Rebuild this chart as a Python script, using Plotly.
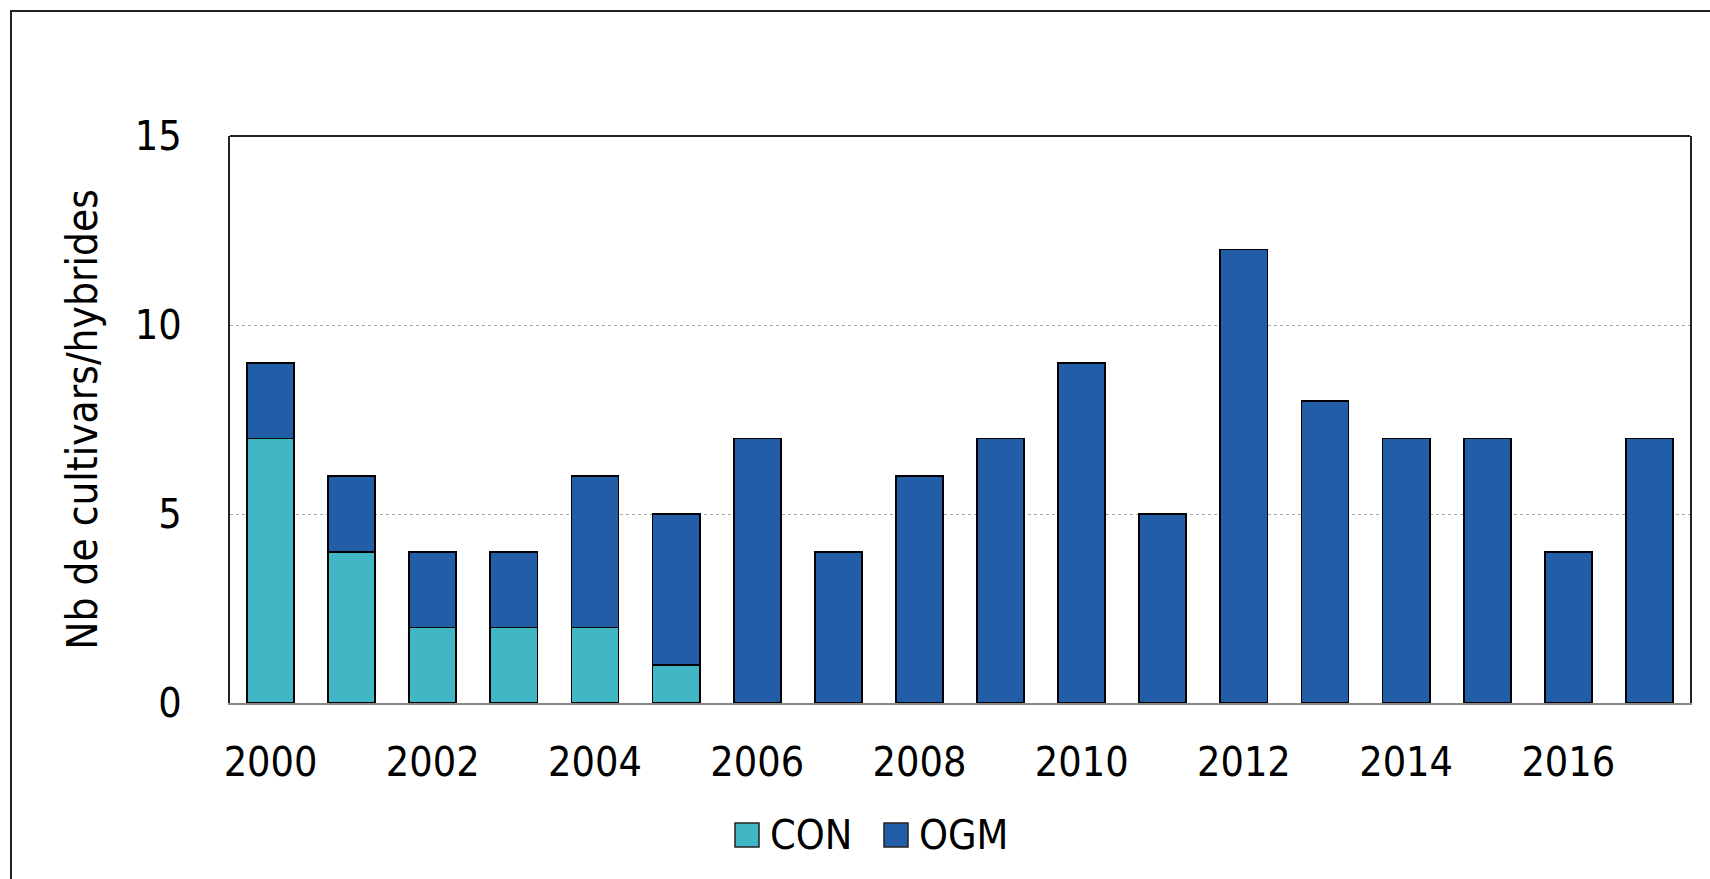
import plotly.graph_objects as go

years = list(range(2000, 2018))
con = [7, 4, 2, 2, 2, 1, 0, 0, 0, 0, 0, 0, 0, 0, 0, 0, 0, 0]
ogm = [2, 2, 2, 2, 4, 4, 7, 4, 6, 7, 9, 5, 12, 8, 7, 7, 4, 7]
series_names = ["CON", "OGM"]
series_colors = ["#41B6C4", "#225EA8"]
y_ticks = [0, 5, 10, 15]
x_ticks = list(range(2000, 2018, 2))

FONT = "DejaVu Sans Condensed, DejaVu Sans, sans-serif"

fig = go.Figure()
for name, vals, col in zip(series_names, [con, ogm], series_colors):
    fig.add_trace(go.Bar(x=years, y=vals, name=name, showlegend=False,
                         marker=dict(color=col, line=dict(color="black", width=1.8))))

L, R, T, B = 230, 20, 136, 176
W, H = 1710, 879
pw, ph = W - L - R, H - T - B

def px_x(v):
    return (v - L) / pw

def px_y(v):
    return (T + ph - v) / ph

shapes = [
    dict(type="line", xref="paper", yref="paper", x0=0, x1=1, y0=1, y1=1, line=dict(color="#222222", width=2)),
    dict(type="rect", xref="paper", yref="paper", x0=px_x(11), y0=-0.6, x1=1.2, y1=px_y(11),
         line=dict(color="#222222", width=2)),
]
annotations = []
# custom legend (larger swatches, as in the reference)
legend_x = [735, 884]
for lx, name, col in zip(legend_x, series_names, series_colors):
    shapes.append(dict(type="rect", xref="paper", yref="paper", x0=px_x(lx), x1=px_x(lx + 24),
                       y0=px_y(847), y1=px_y(823), fillcolor=col, line=dict(color="#222222", width=1.5)))
    annotations.append(dict(xref="paper", yref="paper", x=px_x(lx + 33), y=px_y(835), text=name,
                            showarrow=False, xanchor="left", yanchor="middle", font=dict(size=41)))

fig.update_layout(
    width=W, height=H,
    margin=dict(l=L, r=R, t=T, b=B),
    barmode="stack", bargap=0.42,
    plot_bgcolor="white", paper_bgcolor="white",
    font=dict(family=FONT, size=41, color="black"),
    showlegend=False,
    xaxis=dict(range=[1999.5, 2017.5], tickmode="array", tickvals=x_ticks, showgrid=False,
               showline=True, linecolor="#888888", linewidth=2, ticks="", zeroline=False,
               ticklabelstandoff=22),
    yaxis=dict(range=[0, 15], tickmode="array", tickvals=y_ticks, showgrid=True, gridcolor="#aaaaaa",
               griddash="dot", gridwidth=1, showline=True, linecolor="#222222", linewidth=2, mirror=True,
               ticks="", zeroline=False, ticklabelstandoff=38,
               title=dict(text="Nb de cultivars/hybrides", standoff=24, font=dict(size=42))),
    shapes=shapes,
    annotations=annotations,
)

fig.write_html("out.html")
